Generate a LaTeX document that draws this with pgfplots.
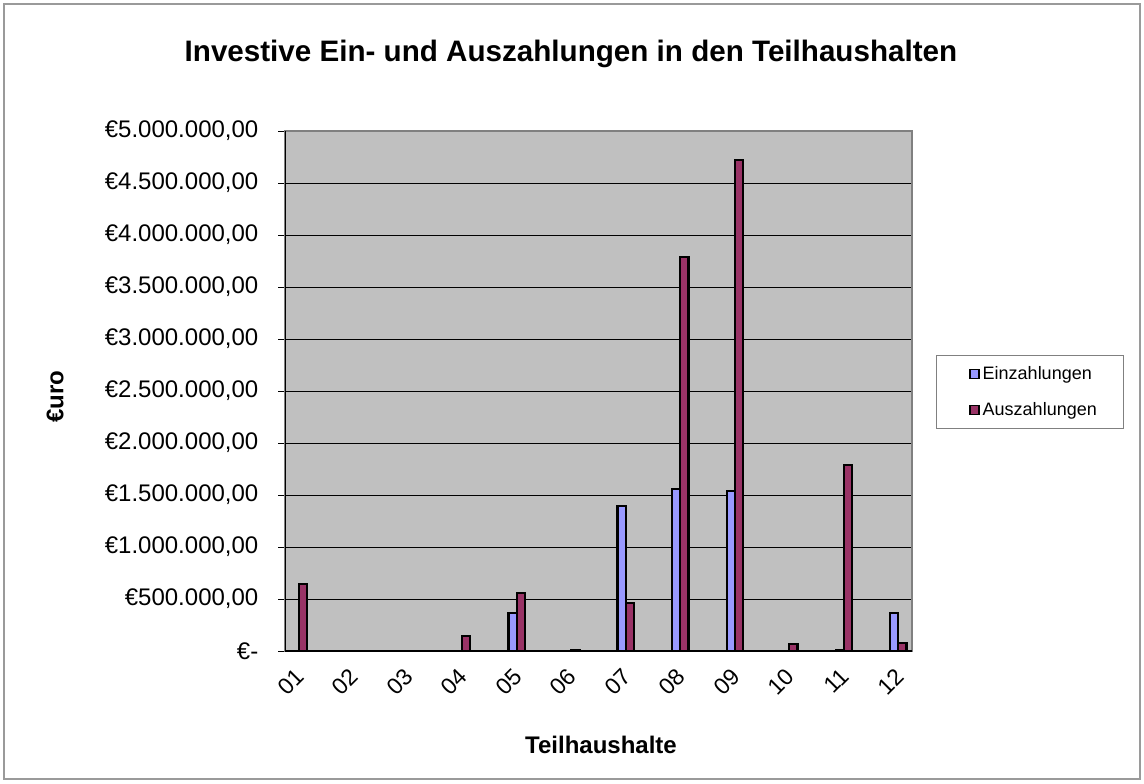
\documentclass[border=0pt]{standalone}
\usepackage{fontspec}
\setmainfont{Liberation Sans}
\usepackage{pgfplots}
\pgfplotsset{compat=1.18}
\definecolor{einz}{HTML}{9999FF}
\definecolor{ausz}{HTML}{993366}
\definecolor{plotbg}{HTML}{C0C0C0}
\definecolor{frame}{HTML}{808080}
\begin{document}
\begin{tikzpicture}
\useasboundingbox (0,0) rectangle (572pt,391.5pt);
\draw[frame!80, line width=0.7pt] (2pt,2pt) rectangle (570pt,389.5pt);
\begin{axis}[
  at={(142.5pt,66pt)}, anchor=south west,
  scale only axis, width=313.5pt, height=260pt,
  xmin=0.5, xmax=23.5, ymin=0, ymax=5000000,
  axis background/.style={fill=plotbg},
  axis line style={frame, line width=0.7pt},
  ybar=0pt, bar width=0.3,
  xtick={1,3,...,23},
  xticklabels={01,02,03,04,05,06,07,08,09,10,11,12},
  minor xtick={0.5,1.5,...,23.5},
  ytick={0,500000,...,5000000},
  yticklabels={€-,€500.000{,}00,€1.000.000{,}00,€1.500.000{,}00,€2.000.000{,}00,€2.500.000{,}00,€3.000.000{,}00,€3.500.000{,}00,€4.000.000{,}00,€4.500.000{,}00,€5.000.000{,}00},
  scaled y ticks=false,
  tick align=outside,
  x tick style={draw=none},
  minor x tick style={black, line width=0.5pt},
  minor tick length=3.5pt,
  y tick style={black, line width=0.5pt},
  major tick length=3.5pt,
  xtick pos=bottom, ytick pos=left,
  ymajorgrids, grid style={black, line width=0.5pt},
  yticklabel style={font=\fontsize{12}{14}\selectfont, xshift=-6.3pt},
  xticklabel style={font=\fontsize{11.5}{13}\selectfont, rotate=45, anchor=east, xshift=-1.2pt, yshift=-5.5pt},
  /pgf/number format/assume math mode=true,
  title={Investive Ein- und Auszahlungen in den Teilhaushalten},
  title style={font=\bfseries\fontsize{14.8}{17}\selectfont, at={(axis description cs:0.456,1.125)}, anchor=center},
  xlabel={Teilhaushalte},
  xlabel style={font=\bfseries\fontsize{12}{14}\selectfont, at={(axis description cs:0.504,-0.1808)}, anchor=center},
  ylabel={€uro},
  ylabel style={font=\bfseries\fontsize{12}{14}\selectfont, at={(axis description cs:-0.3668,0.4885)}, anchor=center},
  legend style={at={(axis description cs:1.0383,0.5692)}, anchor=north west,
    draw=frame, line width=0.6pt, fill=white,
    font=\fontsize{9}{11}\selectfont,
    inner xsep=12pt, inner ysep=3.7pt, row sep=7pt,
    nodes={inner sep=1.5pt}},
  legend cell align=left,
  legend image code/.code={\path (-4pt,0pt); \draw[#1, line width=0.8pt] (0pt,-2.3pt) rectangle (4.6pt,2.3pt);},
]
\addplot[fill=einz, draw=black, line width=1.1pt] coordinates {
 (9,363000) (13,1397000) (15,1560000) (17,1540000) (21,6000) (23,368000)
};
\addplot[fill=ausz, draw=black, line width=1.1pt] coordinates {
 (1,644000) (7,147000) (9,558000) (11,8000) (13,464000) (15,3790000) (17,4720000) (19,67000) (21,1785000) (23,80000)
};
\legend{Einzahlungen,Auszahlungen}
\draw[black, line width=0.7pt] (rel axis cs:0,1) -- (rel axis cs:0,0) -- (rel axis cs:1,0);
\end{axis}
\end{tikzpicture}
\end{document}
